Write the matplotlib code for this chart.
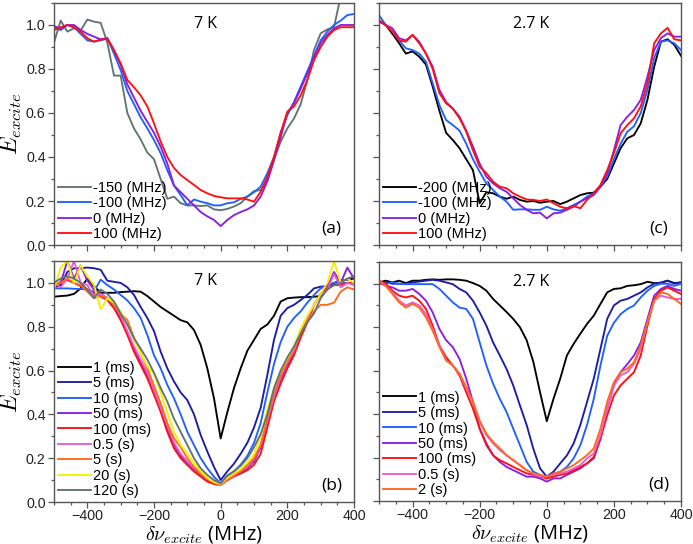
import matplotlib
matplotlib.use("Agg")
import matplotlib.pyplot as plt
from matplotlib.ticker import MultipleLocator
import numpy as np

plt.rcParams['mathtext.fontset'] = 'cm'
plt.rcParams['font.family'] = ['Liberation Sans', 'DejaVu Sans']

# detuning grid (MHz)
freq = [-500, -480, -460, -440, -420, -400, -380, -360, -340, -320,
        -300, -280, -260, -240, -220, -200, -180, -160, -140, -120,
        -100, -80, -60, -40, -20, 0, 20, 40, 60, 80,
        100, 120, 140, 160, 180, 200, 220, 240, 260, 280,
        300, 320, 340, 360, 380, 400]

# ---------------- panel (a): 7 K, burn frequency ----------------
a_labels = ["-150 (MHz)", "-100 (MHz)", "0 (MHz)", "100 (MHz)"]
a_m150 = [0.92, 1.02, 0.97, 0.985, 0.975, 1.025, 1.015, 1.01, 0.92, 0.77,
          0.77, 0.60, 0.53, 0.48, 0.42, 0.39, 0.30, 0.21, 0.22, 0.19,
          0.18, 0.18, 0.177, 0.18, 0.162, 0.158, 0.164, 0.175, 0.19, 0.22,
          0.245, 0.25, 0.29, 0.39, 0.47, 0.53, 0.575, 0.64, 0.75, 0.886,
          0.962, 0.98, 0.99, 1.13, 1.2, 1.25]
a_m100 = [0.99, 0.977, 1.0, 0.99, 0.96, 0.93, 0.925, 0.93, 0.94, 0.87,
          0.795, 0.70, 0.64, 0.58, 0.53, 0.477, 0.417, 0.34, 0.27, 0.227,
          0.18, 0.207, 0.197, 0.19, 0.18, 0.18, 0.19, 0.194, 0.21, 0.22,
          0.24, 0.265, 0.326, 0.40, 0.51, 0.59, 0.65, 0.72, 0.79, 0.86,
          0.93, 0.97, 1.0, 1.02, 1.045, 1.05]
a_0 = [0.995, 0.985, 1.0, 1.0, 0.977, 0.96, 0.947, 0.935, 0.94, 0.886,
       0.82, 0.73, 0.67, 0.61, 0.56, 0.51, 0.447, 0.37, 0.27, 0.24,
       0.21, 0.18, 0.15, 0.13, 0.114, 0.086, 0.114, 0.136, 0.15, 0.162,
       0.18, 0.22, 0.29, 0.386, 0.49, 0.60, 0.645, 0.71, 0.78, 0.856,
       0.917, 0.955, 0.985, 1.0, 1.0, 1.0]
a_100 = [0.977, 0.99, 1.0, 0.99, 0.97, 0.94, 0.924, 0.935, 0.935, 0.886,
         0.826, 0.75, 0.717, 0.68, 0.63, 0.553, 0.47, 0.40, 0.35, 0.318,
         0.295, 0.273, 0.25, 0.235, 0.223, 0.217, 0.212, 0.212, 0.212, 0.207,
         0.197, 0.242, 0.31, 0.40, 0.51, 0.606, 0.63, 0.68, 0.75, 0.84,
         0.90, 0.947, 0.977, 0.99, 0.99, 0.99]

# ---------------- panel (c): 2.7 K, burn frequency ----------------
c_labels = ["-200 (MHz)", "-100 (MHz)", "0 (MHz)", "100 (MHz)"]
c_m200 = [1.02, 1.0, 0.96, 0.917, 0.87, 0.88, 0.856, 0.82, 0.72, 0.61,
          0.51, 0.477, 0.44, 0.39, 0.34, 0.19, 0.24, 0.235, 0.22, 0.21,
          0.22, 0.205, 0.197, 0.20, 0.192, 0.197, 0.20, 0.186, 0.197, 0.212,
          0.227, 0.235, 0.238, 0.265, 0.30, 0.37, 0.44, 0.485, 0.50, 0.553,
          0.66, 0.81, 0.924, 0.935, 0.91, 0.86]
c_m100 = [1.045, 1.0, 0.97, 0.93, 0.894, 0.886, 0.87, 0.833, 0.735, 0.636,
          0.568, 0.545, 0.52, 0.46, 0.39, 0.333, 0.28, 0.25, 0.22, 0.197,
          0.16, 0.162, 0.162, 0.16, 0.16, 0.174, 0.162, 0.156, 0.167, 0.182,
          0.197, 0.22, 0.235, 0.265, 0.31, 0.39, 0.46, 0.515, 0.54, 0.60,
          0.705, 0.85, 0.924, 0.93, 0.917, 0.886]
c_0 = [1.015, 1.0, 0.985, 0.94, 0.93, 0.955, 0.924, 0.87, 0.81, 0.705,
       0.65, 0.62, 0.583, 0.52, 0.447, 0.37, 0.31, 0.28, 0.258, 0.242,
       0.212, 0.182, 0.16, 0.144, 0.147, 0.121, 0.144, 0.147, 0.16, 0.174,
       0.197, 0.212, 0.227, 0.265, 0.326, 0.43, 0.545, 0.583, 0.614, 0.66,
       0.765, 0.886, 0.94, 0.962, 0.947, 0.947]
c_100 = [1.022, 1.0, 0.97, 0.93, 0.924, 0.955, 0.917, 0.87, 0.80, 0.69,
         0.644, 0.62, 0.576, 0.515, 0.43, 0.356, 0.326, 0.288, 0.265, 0.258,
         0.235, 0.22, 0.207, 0.205, 0.20, 0.207, 0.19, 0.174, 0.167, 0.177,
         0.167, 0.205, 0.235, 0.273, 0.34, 0.417, 0.508, 0.545, 0.576, 0.63,
         0.735, 0.917, 0.962, 0.987, 0.935, 0.93]

# ---------------- panel (b): 7 K, burn time ----------------
b_labels = ["1 (ms)", "5 (ms)", "10 (ms)", "50 (ms)", "100 (ms)",
            "0.5 (s)", "5 (s)", "20 (s)", "120 (s)"]
b_1ms = [0.937, 0.94, 0.942, 0.95, 0.975, 1.02, 0.985, 0.955, 0.955, 0.955,
         0.958, 0.96, 0.962, 0.96, 0.94, 0.915, 0.89, 0.87, 0.85, 0.83,
         0.82, 0.785, 0.717, 0.61, 0.473, 0.29, 0.41, 0.52, 0.61, 0.69,
         0.74, 0.79, 0.81, 0.85, 0.915, 0.93, 0.933, 0.935, 0.935, 0.937,
         0.94, 0.97, 1.0, 1.01, 1.015, 1.02]
b_5ms = [0.98, 0.99, 1.05, 1.067, 1.067, 1.07, 1.067, 1.06, 1.01, 1.005,
         1.0, 0.98, 0.945, 0.89, 0.84, 0.78, 0.686, 0.61, 0.55, 0.50,
         0.465, 0.40, 0.306, 0.23, 0.16, 0.10, 0.14, 0.175, 0.22, 0.27,
         0.34, 0.43, 0.58, 0.74, 0.85, 0.885, 0.90, 0.922, 0.945, 0.975,
         0.983, 0.985, 0.99, 0.995, 1.0, 1.0]
b_10ms = [0.975, 0.975, 0.975, 0.973, 0.972, 0.97, 0.96, 1.015, 0.99, 0.97,
          0.945, 0.92, 0.885, 0.84, 0.762, 0.67, 0.61, 0.534, 0.473, 0.40,
          0.32, 0.26, 0.20, 0.154, 0.115, 0.085, 0.12, 0.14, 0.17, 0.21,
          0.27, 0.36, 0.50, 0.63, 0.73, 0.80, 0.84, 0.87, 0.91, 0.945,
          0.975, 0.99, 1.0, 1.0, 1.0, 1.0]
b_50ms = [0.99, 1.0, 1.1, 1.02, 1.08, 1.01, 0.97, 0.95, 0.93, 0.895,
          0.84, 0.77, 0.70, 0.64, 0.58, 0.50, 0.42, 0.33, 0.26, 0.21,
          0.18, 0.15, 0.125, 0.10, 0.088, 0.08, 0.10, 0.12, 0.135, 0.155,
          0.185, 0.25, 0.36, 0.47, 0.56, 0.625, 0.68, 0.76, 0.83, 0.90,
          0.95, 0.98, 1.05, 1.0, 1.07, 1.02]
b_100ms = [0.983, 1.005, 1.013, 1.0, 0.985, 0.968, 0.953, 0.937, 0.922, 0.884,
           0.83, 0.763, 0.686, 0.625, 0.565, 0.489, 0.412, 0.32, 0.245, 0.20,
           0.169, 0.139, 0.116, 0.093, 0.082, 0.078, 0.10, 0.116, 0.13, 0.145,
           0.17, 0.22, 0.34, 0.46, 0.54, 0.61, 0.67, 0.75, 0.82, 0.90,
           0.95, 0.975, 0.99, 0.99, 1.0, 1.0]
b_05s = [1.0, 0.98, 1.02, 1.1, 1.0, 0.99, 0.94, 0.95, 0.93, 0.90,
         0.85, 0.78, 0.71, 0.65, 0.59, 0.51, 0.43, 0.35, 0.27, 0.22,
         0.185, 0.155, 0.13, 0.105, 0.09, 0.08, 0.10, 0.12, 0.14, 0.16,
         0.195, 0.26, 0.37, 0.48, 0.57, 0.635, 0.69, 0.77, 0.84, 0.90,
         0.945, 0.97, 1.04, 0.98, 1.0, 0.99]
b_5s = [0.99, 1.0, 1.02, 1.0, 0.99, 0.96, 0.93, 0.94, 0.93, 0.90,
        0.86, 0.83, 0.75, 0.68, 0.61, 0.53, 0.45, 0.36, 0.29, 0.25,
        0.20, 0.16, 0.13, 0.105, 0.09, 0.08, 0.10, 0.125, 0.14, 0.17,
        0.20, 0.26, 0.38, 0.50, 0.58, 0.64, 0.70, 0.77, 0.83, 0.87,
        0.90, 0.90, 0.91, 0.96, 0.98, 0.97]
b_20s = [0.97, 1.07, 1.1, 1.0, 1.08, 1.03, 0.99, 0.88, 0.93, 0.91,
         0.87, 0.81, 0.74, 0.68, 0.62, 0.585, 0.50, 0.41, 0.32, 0.26,
         0.22, 0.18, 0.14, 0.11, 0.09, 0.082, 0.11, 0.13, 0.15, 0.18,
         0.22, 0.30, 0.42, 0.52, 0.60, 0.655, 0.71, 0.79, 0.85, 0.90,
         0.95, 1.0, 1.1, 1.0, 1.02, 1.0]
b_120s = [1.0, 1.02, 1.03, 1.02, 1.0, 0.97, 0.93, 0.97, 0.95, 0.915,
          0.86, 0.81, 0.747, 0.70, 0.65, 0.59, 0.52, 0.458, 0.38, 0.32,
          0.26, 0.20, 0.154, 0.123, 0.10, 0.085, 0.12, 0.14, 0.165, 0.20,
          0.25, 0.31, 0.40, 0.52, 0.60, 0.66, 0.71, 0.77, 0.82, 0.86,
          0.93, 0.97, 0.99, 1.0, 1.02, 1.03]

# ---------------- panel (d): 2.7 K, burn time ----------------
d_labels = ["1 (ms)", "5 (ms)", "10 (ms)", "50 (ms)", "100 (ms)",
            "0.5 (s)", "2 (s)"]
d_1ms = [1.006, 1.014, 1.006, 1.014, 1.003, 1.014, 1.014, 1.018, 1.02, 1.018,
         1.02, 1.02, 1.018, 1.014, 1.003, 0.99, 0.968, 0.93, 0.90, 0.87,
         0.838, 0.80, 0.74, 0.64, 0.50, 0.367, 0.47, 0.563, 0.67, 0.723,
         0.77, 0.815, 0.853, 0.907, 0.96, 0.976, 0.979, 0.99, 0.993, 0.998,
         1.009, 1.003, 1.003, 1.014, 1.003, 1.006]
d_5ms = [1.0, 1.006, 1.0, 1.0, 1.0, 1.006, 1.01, 1.014, 1.018, 1.014,
         1.006, 0.998, 0.976, 0.96, 0.922, 0.868, 0.807, 0.73, 0.67, 0.608,
         0.532, 0.44, 0.35, 0.24, 0.15, 0.112, 0.135, 0.173, 0.21, 0.265,
         0.35, 0.456, 0.563, 0.70, 0.838, 0.90, 0.922, 0.93, 0.945, 0.96,
         0.983, 1.0, 1.006, 1.014, 1.0, 1.006]
d_10ms = [1.0, 1.0, 1.006, 1.0, 0.998, 0.998, 0.998, 0.998, 0.998, 0.976,
          0.945, 0.914, 0.89, 0.884, 0.838, 0.73, 0.624, 0.54, 0.47, 0.41,
          0.333, 0.257, 0.18, 0.135, 0.12, 0.104, 0.12, 0.135, 0.157, 0.196,
          0.257, 0.35, 0.47, 0.624, 0.76, 0.82, 0.86, 0.884, 0.90, 0.937,
          0.968, 0.99, 1.0, 1.0, 0.99, 1.0]
d_50ms = [1.006, 0.99, 0.983, 0.968, 0.968, 0.976, 0.953, 0.922, 0.868, 0.792,
          0.74, 0.708, 0.654, 0.563, 0.456, 0.333, 0.257, 0.21, 0.18, 0.157,
          0.142, 0.127, 0.112, 0.112, 0.104, 0.089, 0.104, 0.104, 0.12, 0.135,
          0.15, 0.173, 0.196, 0.287, 0.425, 0.532, 0.593, 0.63, 0.67, 0.73,
          0.838, 0.945, 0.976, 0.99, 0.976, 0.968]
d_100ms = [1.014, 1.0, 0.968, 0.945, 0.937, 0.945, 0.922, 0.884, 0.807, 0.716,
           0.662, 0.624, 0.578, 0.50, 0.425, 0.333, 0.265, 0.21, 0.188, 0.173,
           0.157, 0.142, 0.127, 0.12, 0.112, 0.104, 0.112, 0.12, 0.127, 0.142,
           0.157, 0.173, 0.203, 0.287, 0.394, 0.486, 0.532, 0.563, 0.593, 0.67,
           0.807, 0.93, 0.968, 0.983, 0.968, 0.953]
d_05s = [1.014, 0.99, 0.96, 0.922, 0.90, 0.914, 0.90, 0.86, 0.792, 0.716,
         0.647, 0.624, 0.586, 0.517, 0.456, 0.364, 0.303, 0.265, 0.234, 0.21,
         0.188, 0.165, 0.142, 0.122, 0.112, 0.112, 0.12, 0.127, 0.135, 0.15,
         0.165, 0.196, 0.219, 0.303, 0.425, 0.532, 0.578, 0.593, 0.632, 0.70,
         0.823, 0.922, 0.945, 0.937, 0.93, 0.93]
d_2s = [1.014, 0.99, 0.953, 0.914, 0.89, 0.907, 0.89, 0.845, 0.784, 0.708,
        0.647, 0.624, 0.586, 0.524, 0.456, 0.37, 0.31, 0.272, 0.242, 0.211,
        0.188, 0.165, 0.142, 0.127, 0.12, 0.112, 0.127, 0.135, 0.15, 0.165,
        0.188, 0.211, 0.242, 0.333, 0.456, 0.547, 0.593, 0.609, 0.639, 0.716,
        0.823, 0.922, 0.96, 0.953, 0.93, 0.907]

# colours
BLACK = "#000000"
NAVY = "#1c1ca8"
BLUE = "#2060ff"
PURPLE = "#8a1ee6"
RED = "#ff1010"
PINK = "#ea5ad6"
ORANGE = "#ff6a1a"
YELLOW = "#f2f200"
GRAY = "#617474"

fig = plt.figure(figsize=(6.93, 5.44), dpi=100)
W, H = 693.0, 544.0
def box(l, t, r, b):
    return [l / W, 1 - b / H, (r - l) / W, (b - t) / H]

ax_a = fig.add_axes(box(54, 3, 354, 245))
ax_c = fig.add_axes(box(379, 3, 681, 245))
ax_b = fig.add_axes(box(54, 261, 354, 502))
ax_d = fig.add_axes(box(379, 262, 681, 501))

SPINE = "#555555"
LW = 1.35

def style(ax, show_x, show_y):
    ax.set_xlim(-500, 400)
    ax.set_ylim(0, 1.1)
    ax.xaxis.set_major_locator(MultipleLocator(200))
    ax.xaxis.set_minor_locator(MultipleLocator(50))
    ax.yaxis.set_major_locator(MultipleLocator(0.2))
    ax.yaxis.set_minor_locator(MultipleLocator(0.1))
    ax.tick_params(which='both', direction='out', top=False, right=False,
                   color=SPINE, labelsize=10.3, labelcolor="#222222", width=0.9)
    ax.tick_params(which='major', length=4, pad=2)
    ax.tick_params(axis='x', which='major', pad=1)
    ax.tick_params(which='minor', length=2)
    ax.tick_params(axis='x', labelbottom=show_x)
    ax.tick_params(axis='y', labelleft=show_y)
    for s in ax.spines.values():
        s.set_color(SPINE)
        s.set_linewidth(1.0)
    if show_y:
        ax.yaxis.set_major_formatter(matplotlib.ticker.FormatStrFormatter('%.1f'))

def legend(ax):
    ax.legend(loc='lower left', frameon=False, fontsize=10.5,
              handlelength=2.3, handletextpad=0.12, labelspacing=0.1,
              borderaxespad=0.15, borderpad=0.1)

def tag(ax, temp, letter):
    ax.text(0.505, 0.915, temp, transform=ax.transAxes, ha='center', va='center',
            fontsize=11.5, family='Open Sans')
    ax.text(0.925, 0.07, letter, transform=ax.transAxes, ha='center', va='center',
            fontsize=12.5, family='Open Sans')

# (a)
for y, c, lab in zip([a_m150, a_m100, a_0, a_100], [GRAY, BLUE, PURPLE, RED], a_labels):
    ax_a.plot(freq, y, color=c, lw=LW, label=lab)
style(ax_a, False, True)
legend(ax_a)
tag(ax_a, "7 K", "(a)")

# (c)
for y, c, lab in zip([c_m200, c_m100, c_0, c_100], [BLACK, BLUE, PURPLE, RED], c_labels):
    ax_c.plot(freq, y, color=c, lw=LW, label=lab)
style(ax_c, False, False)
legend(ax_c)
tag(ax_c, "2.7 K", "(c)")

# (b)
b_series = [b_1ms, b_5ms, b_10ms, b_50ms, b_100ms, b_05s, b_5s, b_20s, b_120s]
b_cols = [BLACK, NAVY, BLUE, PURPLE, RED, PINK, ORANGE, YELLOW, GRAY]
for y, c, lab in zip(b_series, b_cols, b_labels):
    ax_b.plot(freq, y, color=c, lw=LW, label=lab)
style(ax_b, True, True)
legend(ax_b)
tag(ax_b, "7 K", "(b)")

# (d)
d_series = [d_1ms, d_5ms, d_10ms, d_50ms, d_100ms, d_05s, d_2s]
d_cols = [BLACK, NAVY, BLUE, PURPLE, RED, PINK, ORANGE]
for y, c, lab in zip(d_series, d_cols, d_labels):
    ax_d.plot(freq, y, color=c, lw=LW, label=lab)
style(ax_d, True, False)
legend(ax_d)
tag(ax_d, "2.7 K", "(d)")

for ax in (ax_a, ax_b):
    ax.set_ylabel(r"$E_{excite}$", fontsize=17)
    ax.yaxis.set_label_coords(-0.1, 0.5)
for ax in (ax_b, ax_d):
    ax.set_xlabel(r"$\delta\nu_{excite}$ (MHz)", fontsize=14.5, family='Open Sans')
    ax.xaxis.set_label_coords(0.5, -0.09)

fig.savefig("out.png", dpi=100)
